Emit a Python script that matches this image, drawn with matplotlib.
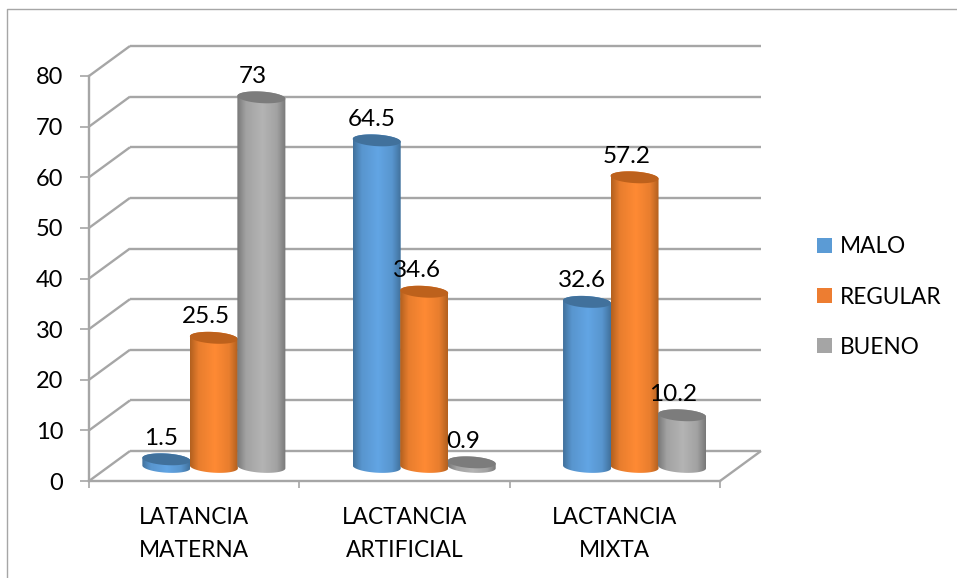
import matplotlib
matplotlib.use('Agg')
import matplotlib.pyplot as plt
import numpy as np
from matplotlib.colors import LinearSegmentedColormap, to_rgb
from matplotlib.lines import Line2D
from matplotlib.patches import Patch, Polygon

plt.rcParams['font.family'] = ['Lato', 'DejaVu Sans']

categories = ['LATANCIA\nMATERNA', 'LACTANCIA\nARTIFICIAL', 'LACTANCIA\nMIXTA']
series_names = ['MALO', 'REGULAR', 'BUENO']
malo = [1.5, 64.5, 32.6]
regular = [25.5, 34.6, 57.2]
bueno = [73, 0.9, 10.2]
y_ticks = [0, 10, 20, 30, 40, 50, 60, 70, 80]

# edge, highlight, lid, legend colour for each series
edge_colors = ['#41719c', '#b2601f', '#787878']
light_colors = ['#62a5e4', '#ff8a34', '#b4b4b4']
top_colors = ['#41719c', '#bd611c', '#7c7c7c']
legend_colors = ['#5b9bd5', '#ed7d31', '#a5a5a5']
label_shift = [-5, -7.5, -9]  # px, labels sit a bit left of the cylinders

W, H = 957, 578
x0_px, x1_px = 89, 720
y0_px, y80_px = 481, 76
px_x = (x1_px - x0_px) / 3.0    # px per category
px_y = (y0_px - y80_px) / 80.0  # px per value unit
depth_x = 41 / px_x
depth_y = 30 / px_y
grid_col = '#a6a6a6'

fig = plt.figure(figsize=(W / 100, H / 100), dpi=100)
ax = fig.add_axes([x0_px / W, 1 - y0_px / H, (x1_px - x0_px) / W, (y0_px - y80_px) / H])
ax.patch.set_alpha(0)

# outer chart border, only top and left are visible
fig.add_artist(Line2D([7 / W, 7 / W, 1], [0, 1 - 9 / H, 1 - 9 / H], color=grid_col, lw=1))


def wall_line(xs, ys):
    ax.plot(xs, ys, color=grid_col, lw=1.7, clip_on=False, zorder=1, solid_capstyle='butt')


# back wall and side wall grid
for v in y_ticks:
    wall_line([depth_x, 3 + depth_x], [v + depth_y, v + depth_y])
    wall_line([0, depth_x], [v, v + depth_y])
wall_line([3, 3 + depth_x], [0, depth_y])


def ellipse(cx, cy, start, stop):
    # arc of the cylinder rim, slightly tilted, in data units
    a, b, tilt = 24.0, 5.8, -0.06
    t = np.linspace(start, stop, 60)
    dx = a * np.cos(t)
    dy = b * np.sin(t) + tilt * dx
    return np.column_stack([cx + dx / px_x, cy + dy / px_y])


def cylinder(cx, value, idx):
    base = depth_y * 0.47
    top = base + value
    body = np.vstack([ellipse(cx, base, np.pi, 2 * np.pi), ellipse(cx, top, 0, np.pi)])
    dark = np.array(to_rgb(edge_colors[idx]))
    light = np.array(to_rgb(light_colors[idx]))
    mid = dark * 0.3 + light * 0.7
    cmap = LinearSegmentedColormap.from_list(
        'c', [(0, dark), (0.18, mid), (0.52, light), (0.82, mid), (1, dark)])
    w = 24.0 / px_x
    img = ax.imshow(np.linspace(0, 1, 128).reshape(1, -1), cmap=cmap, aspect='auto',
                    extent=[cx - w, cx + w, base - 3, top + 3], zorder=3 + idx, interpolation='bilinear')
    img.set_clip_path(Polygon(body, transform=ax.transData))
    lid = ellipse(cx, top, 0, 2 * np.pi)
    ax.add_patch(Polygon(lid, closed=True, fc=top_colors[idx], ec='none', zorder=3 + idx))
    ax.annotate(str(value), (cx, top), xytext=(label_shift[idx] * 0.72, 21 * 0.72),
                textcoords='offset points', ha='center', va='center', fontsize=17.5,
                color='black', zorder=10)


for i, values in enumerate([malo, regular, bueno]):
    for j, v in enumerate(values):
        # the three cylinders of a group sit side by side, 47.5 px apart
        cx = j + 0.5 + 19.7 / px_x + (i - 1) * 47.5 / px_x
        cylinder(cx, v, i)

ax.set_xlim(0, 3)
ax.set_ylim(0, 80)

for s in ['top', 'right']:
    ax.spines[s].set_visible(False)
for s in ['left', 'bottom']:
    ax.spines[s].set_color(grid_col)
    ax.spines[s].set_linewidth(1.7)

ax.set_yticks(y_ticks)
ax.set_xticks([0, 1, 2, 3])
ax.set_xticklabels([])
ax.set_xticks([0.5, 1.5, 2.5], minor=True)
ax.set_xticklabels(categories, minor=True, fontsize=16.3, linespacing=1.66)
ax.tick_params(axis='y', length=6.5, width=1.2, color=grid_col, labelsize=17, pad=12)
ax.tick_params(axis='x', which='major', length=5, width=1.2, color=grid_col)
ax.tick_params(axis='x', which='minor', length=0, pad=19)

handles = [Patch(fc=c, ec='none') for c in legend_colors]
fig.legend(handles, series_names, loc='center left', bbox_to_anchor=(817 / W, 1 - 297 / H),
           frameon=False, fontsize=16.3, handlelength=0.66, handleheight=0.66,
           handletextpad=0.33, labelspacing=1.29, borderpad=0, borderaxespad=0)

plt.savefig('out.png', dpi=100)
